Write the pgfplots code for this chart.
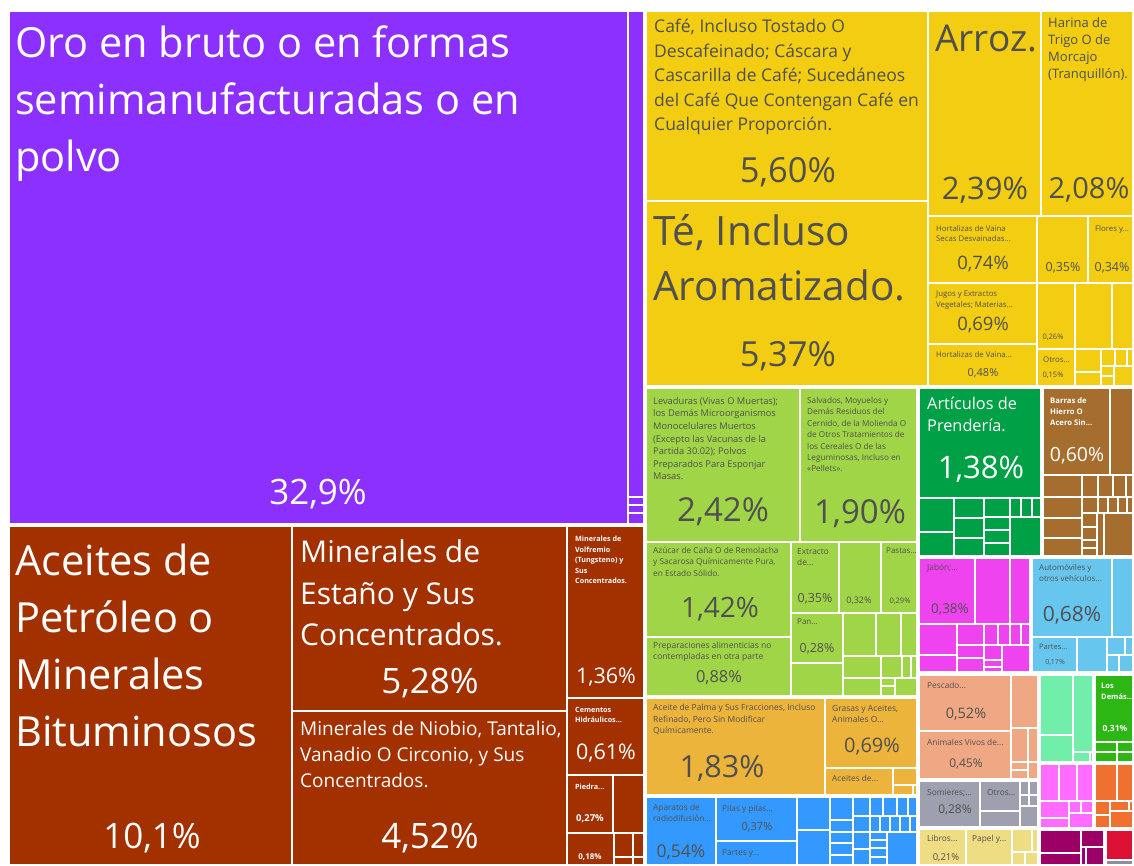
\documentclass[border=0pt]{standalone}
\usepackage{pgfplots}
\pgfplotsset{compat=1.18}
\usepackage{fontspec}
\setmainfont{Open Sans}
\definecolor{cPur}{HTML}{8C30FF}
\definecolor{cBrn}{HTML}{A33100}
\definecolor{cYel}{HTML}{F3CD12}
\definecolor{cLgr}{HTML}{A0D548}
\definecolor{cDgr}{HTML}{00A146}
\definecolor{cBr2}{HTML}{A66E2E}
\definecolor{cMag}{HTML}{F043F0}
\definecolor{cLbl}{HTML}{66C6EE}
\definecolor{cGld}{HTML}{EDB43C}
\definecolor{cBlu}{HTML}{3399FF}
\definecolor{cSal}{HTML}{F0A884}
\definecolor{cGry}{HTML}{9EA0B0}
\definecolor{cKha}{HTML}{EEDD82}
\definecolor{cMin}{HTML}{70EEAA}
\definecolor{cGrn}{HTML}{2DB714}
\definecolor{cPnk}{HTML}{FF6CFF}
\definecolor{cOra}{HTML}{F07030}
\definecolor{cDmg}{HTML}{9C0066}
\definecolor{cRed}{HTML}{DD1133}
\definecolor{cGy2}{HTML}{8E8E9E}
\definecolor{tx}{HTML}{505050}
\newcommand{\R}[5]{\addplot[fill=#5,draw=white,line width=2pt] coordinates {(#1,#2) (#3,#2) (#3,#4) (#1,#4)} --cycle;}
\newcommand{\G}[4]{\addplot[draw=white,line width=3.5pt] coordinates {(#1,#2) (#3,#2) (#3,#4) (#1,#4)} --cycle;}
\newcommand{\T}[6]{\node[anchor=north west,inner sep=0pt,align=left,text=#5,font=\fontsize{#3}{#4}\selectfont] at (axis cs:#1,#2) {#6};}
\newcommand{\Pc}[5]{\node[anchor=center,inner sep=0pt,text=#4,font=\fontsize{#3}{#3}\selectfont] at (axis cs:#1,#2) {#5};}
\begin{document}
\begin{tikzpicture}
\begin{axis}[width=1134pt,height=866pt,scale only axis,xmin=0,xmax=1134,ymin=0,ymax=866,y dir=reverse,hide axis]
\addplot[fill=white,draw=none] coordinates {(0,0) (1134,0) (1134,866) (0,866)} --cycle;
% ---- purple
\R{8}{10}{628}{525}{cPur}
\R{628}{10}{645}{497}{cPur}
\R{628}{497}{645}{505}{cPur}
\R{628}{505}{645}{513}{cPur}
\R{628}{513}{645}{525}{cPur}
% ---- brown
\R{8}{525}{292}{866}{cBrn}
\R{292}{525}{567}{711}{cBrn}
\R{292}{711}{567}{866}{cBrn}
\R{567}{525}{645}{698}{cBrn}
\R{567}{698}{645}{775}{cBrn}
\R{567}{775}{613}{833}{cBrn}
\R{613}{775}{645}{833}{cBrn}
\R{567}{833}{614}{866}{cBrn}
\R{614}{833}{633}{857}{cBrn}
\R{633}{833}{645}{857}{cBrn}
\R{614}{857}{633}{866}{cBrn}
\R{633}{857}{645}{866}{cBrn}
% ---- yellow
\R{645}{10}{928}{201}{cYel}
\R{645}{201}{928}{387}{cYel}
\R{928}{10}{1041}{216}{cYel}
\R{1041}{10}{1134}{216}{cYel}
\R{928}{216}{1037}{283}{cYel}
\R{1037}{216}{1088}{283}{cYel}
\R{1088}{216}{1134}{283}{cYel}
\R{928}{283}{1037}{344}{cYel}
\R{928}{344}{1037}{387}{cYel}
\R{1037}{283}{1075}{349}{cYel}
\R{1075}{283}{1112}{349}{cYel}
\R{1112}{283}{1134}{349}{cYel}
\R{1037}{349}{1075}{387}{cYel}
\R{1075}{349}{1101}{372}{cYel}
\R{1075}{372}{1101}{387}{cYel}
\R{1101}{349}{1115}{366}{cYel}
\R{1115}{349}{1127}{366}{cYel}
\R{1127}{349}{1134}{366}{cYel}
\R{1101}{366}{1114}{376}{cYel}
\R{1101}{376}{1114}{387}{cYel}
\R{1114}{366}{1134}{387}{cYel}
% ---- light green
\R{645}{387}{800}{542}{cLgr}
\R{800}{387}{918}{542}{cLgr}
\R{645}{542}{791}{637}{cLgr}
\R{645}{637}{791}{697}{cLgr}
\R{791}{542}{839}{613}{cLgr}
\R{839}{542}{881}{613}{cLgr}
\R{881}{542}{918}{613}{cLgr}
\R{791}{613}{843}{663}{cLgr}
\R{791}{663}{843}{697}{cLgr}
\R{843}{613}{876}{656}{cLgr}
\R{876}{613}{901}{656}{cLgr}
\R{901}{613}{918}{656}{cLgr}
\R{843}{656}{881}{678}{cLgr}
\R{843}{678}{881}{697}{cLgr}
\R{881}{656}{902}{678}{cLgr}
\R{902}{656}{911}{678}{cLgr}
\R{911}{656}{918}{678}{cLgr}
\R{881}{678}{895}{686}{cLgr}
\R{881}{686}{895}{697}{cLgr}
\R{895}{678}{918}{697}{cLgr}
% ---- dark green
\R{918}{387}{1042}{498}{cDgr}
\R{918}{498}{954}{532}{cDgr}
\R{918}{532}{954}{557}{cDgr}
\R{954}{498}{984}{518}{cDgr}
\R{954}{518}{984}{538}{cDgr}
\R{954}{538}{984}{557}{cDgr}
\R{984}{498}{1010}{517}{cDgr}
\R{984}{517}{1010}{530}{cDgr}
\R{984}{530}{1010}{543}{cDgr}
\R{984}{543}{1010}{557}{cDgr}
\R{1010}{498}{1021}{517}{cDgr}
\R{1021}{498}{1032}{517}{cDgr}
\R{1032}{498}{1042}{517}{cDgr}
\R{1010}{517}{1042}{557}{cDgr}
% ---- barras
\R{1042}{387}{1110}{475}{cBr2}
\R{1110}{387}{1134}{475}{cBr2}
\R{1042}{475}{1082}{497}{cBr2}
\R{1042}{497}{1082}{518}{cBr2}
\R{1042}{518}{1082}{538}{cBr2}
\R{1042}{538}{1082}{557}{cBr2}
\R{1082}{475}{1098}{497}{cBr2}
\R{1098}{475}{1113}{497}{cBr2}
\R{1113}{475}{1126}{497}{cBr2}
\R{1126}{475}{1134}{497}{cBr2}
\R{1082}{497}{1098}{513}{cBr2}
\R{1098}{497}{1108}{513}{cBr2}
\R{1108}{497}{1118}{513}{cBr2}
\R{1118}{497}{1127}{513}{cBr2}
\R{1127}{497}{1134}{513}{cBr2}
\R{1082}{513}{1097}{527}{cBr2}
\R{1082}{527}{1097}{540}{cBr2}
\R{1082}{540}{1097}{548}{cBr2}
\R{1082}{548}{1097}{557}{cBr2}
\R{1097}{513}{1104}{557}{cBr2}
\R{1104}{513}{1134}{557}{cBr2}
% ---- magenta
\R{918}{557}{975}{624}{cMag}
\R{975}{557}{1010}{624}{cMag}
\R{1010}{557}{1031}{624}{cMag}
\R{918}{624}{957}{655}{cMag}
\R{918}{655}{957}{673}{cMag}
\R{957}{624}{984}{645}{cMag}
\R{957}{645}{984}{658}{cMag}
\R{957}{658}{984}{673}{cMag}
\R{984}{624}{998}{645}{cMag}
\R{998}{624}{1010}{645}{cMag}
\R{1010}{624}{1021}{645}{cMag}
\R{1021}{624}{1031}{645}{cMag}
\R{984}{645}{1002}{660}{cMag}
\R{984}{660}{1002}{667}{cMag}
\R{984}{667}{1002}{673}{cMag}
\R{1002}{645}{1031}{673}{cMag}
% ---- light blue
\R{1031}{557}{1112}{637}{cLbl}
\R{1112}{557}{1134}{637}{cLbl}
\R{1031}{637}{1077}{673}{cLbl}
\R{1077}{637}{1107}{673}{cLbl}
\R{1107}{637}{1125}{655}{cLbl}
\R{1125}{637}{1134}{655}{cLbl}
\R{1107}{655}{1119}{673}{cLbl}
\R{1119}{655}{1134}{673}{cLbl}
% ---- gold
\R{645}{697}{825}{796}{cGld}
\R{825}{697}{918}{768}{cGld}
\R{825}{768}{893}{796}{cGld}
\R{893}{768}{918}{785}{cGld}
\R{893}{785}{913}{796}{cGld}
\R{913}{785}{918}{796}{cGld}
% ---- blue
\R{645}{796}{716}{866}{cBlu}
\R{716}{796}{797}{841}{cBlu}
\R{716}{841}{797}{866}{cBlu}
\R{797}{796}{830}{830}{cBlu}
\R{797}{830}{830}{866}{cBlu}
\R{830}{796}{853}{820}{cBlu}
\R{830}{820}{853}{832}{cBlu}
\R{830}{832}{853}{843}{cBlu}
\R{830}{843}{853}{855}{cBlu}
\R{830}{855}{853}{866}{cBlu}
\R{853}{796}{870}{816}{cBlu}
\R{870}{796}{883}{816}{cBlu}
\R{883}{796}{897}{816}{cBlu}
\R{897}{796}{908}{816}{cBlu}
\R{908}{796}{918}{816}{cBlu}
\R{853}{816}{870}{832}{cBlu}
\R{870}{816}{880}{832}{cBlu}
\R{880}{816}{890}{832}{cBlu}
\R{890}{816}{900}{832}{cBlu}
\R{900}{816}{910}{832}{cBlu}
\R{910}{816}{918}{832}{cBlu}
\R{853}{832}{870}{849}{cBlu}
\R{853}{849}{870}{866}{cBlu}
\R{870}{832}{887}{840}{cBlu}
\R{870}{840}{887}{848}{cBlu}
\R{870}{848}{887}{857}{cBlu}
\R{870}{857}{887}{866}{cBlu}
\R{887}{832}{918}{866}{cBlu}
% ---- salmon
\R{918}{674}{1011}{731}{cSal}
\R{918}{731}{1011}{780}{cSal}
\R{1011}{674}{1039}{728}{cSal}
\R{1011}{728}{1028}{762}{cSal}
\R{1028}{728}{1039}{762}{cSal}
\R{1011}{762}{1028}{770}{cSal}
\R{1011}{770}{1028}{780}{cSal}
\R{1028}{762}{1039}{780}{cSal}
% ---- gray
\R{918}{780}{980}{828}{cGry}
\R{980}{780}{1020}{811}{cGry}
\R{980}{811}{1020}{828}{cGry}
\R{1020}{780}{1029}{795}{cGry}
\R{1029}{780}{1039}{795}{cGry}
\R{1020}{795}{1029}{806}{cGry}
\R{1029}{795}{1039}{806}{cGry}
\R{1020}{806}{1039}{828}{cGry}
% ---- khaki
\R{918}{828}{966}{866}{cKha}
\R{966}{828}{1012}{866}{cKha}
\R{1012}{828}{1032}{852}{cKha}
\R{1032}{828}{1039}{852}{cKha}
\R{1012}{852}{1025}{866}{cKha}
\R{1025}{852}{1039}{866}{cKha}
% ---- mint
\R{1039}{674}{1073}{735}{cMin}
\R{1039}{735}{1073}{763}{cMin}
\R{1073}{674}{1094}{752}{cMin}
\R{1073}{752}{1090}{763}{cMin}
\R{1090}{752}{1094}{763}{cMin}
% ---- green los demas
\R{1094}{674}{1134}{742}{cGrn}
\R{1094}{742}{1117}{752}{cGrn}
\R{1094}{752}{1117}{763}{cGrn}
\R{1117}{742}{1134}{752}{cGrn}
\R{1117}{752}{1134}{763}{cGrn}
% ---- pink
\R{1039}{763}{1059}{801}{cPnk}
\R{1059}{763}{1077}{801}{cPnk}
\R{1077}{763}{1094}{801}{cPnk}
\R{1039}{801}{1069}{818}{cPnk}
\R{1039}{818}{1069}{829}{cPnk}
\R{1069}{801}{1081}{813}{cPnk}
\R{1081}{801}{1094}{813}{cPnk}
\R{1069}{813}{1094}{829}{cPnk}
% ---- orange
\R{1094}{763}{1117}{801}{cOra}
\R{1117}{763}{1134}{801}{cOra}
\R{1094}{801}{1110}{815}{cOra}
\R{1094}{815}{1110}{829}{cOra}
\R{1110}{801}{1129}{811}{cOra}
\R{1129}{801}{1134}{811}{cOra}
\R{1110}{811}{1134}{829}{cOra}
% ---- dark magenta, red
\R{1039}{829}{1081}{853}{cDmg}
\R{1039}{853}{1081}{866}{cDmg}
\R{1081}{829}{1105}{847}{cDmg}
\R{1081}{847}{1086}{866}{cDmg}
\R{1086}{847}{1105}{866}{cDmg}
\R{1105}{829}{1134}{860}{cRed}
\R{1105}{860}{1134}{866}{cGy2}
% ---- group outlines
\G{8}{10}{645}{525}
\G{8}{525}{645}{866}
\G{645}{10}{1134}{387}
\G{645}{387}{918}{697}
\G{918}{387}{1042}{557}
\G{1042}{387}{1134}{557}
\G{918}{557}{1031}{673}
\G{1031}{557}{1134}{673}
\G{645}{697}{918}{796}
\G{645}{796}{918}{866}
\G{918}{674}{1039}{780}
\G{918}{780}{1039}{828}
\G{918}{828}{1039}{866}
\G{1039}{674}{1094}{763}
\G{1094}{674}{1134}{763}
\G{1039}{763}{1094}{829}
\G{1094}{763}{1134}{829}
\G{1039}{829}{1105}{866}
\G{1105}{829}{1134}{866}
% ================= texts
\T{15}{26}{41.5}{57}{white}{Oro en bruto o en formas\\semimanufacturadas o en\\polvo}
\Pc{318}{494}{35}{white}{32,9\%}
\T{15}{544}{41.5}{57}{white}{Aceites de\\Petróleo o\\Minerales\\Bituminosos}
\Pc{152}{838}{35}{white}{10,1\%}
\T{300}{540}{30}{41.5}{white}{Minerales de\\Estaño y Sus\\Concentrados.}
\Pc{430}{683}{35}{white}{5,28\%}
\T{300}{721}{19}{26}{white}{Minerales de Niobio, Tantalio,\\Vanadio O Circonio, y Sus\\Concentrados.}
\Pc{430}{838}{35}{white}{4,52\%}
\T{575}{536}{7.2}{10.5}{white}{\bfseries Minerales de\\\bfseries Volfremio\\\bfseries (Tungsteno) y\\\bfseries Sus\\\bfseries Concentrados.}
\Pc{606}{677}{21.5}{white}{1,36\%}
\T{575}{707}{7.2}{10.5}{white}{\bfseries Cementos\\\bfseries Hidráulicos...}
\Pc{606}{753}{21.5}{white}{0,61\%}
\T{575}{784}{7.2}{10}{white}{\bfseries Piedra...}
\Pc{590}{819}{9.5}{white}{\bfseries 0,27\%}
\Pc{590}{857}{8}{white}{\bfseries 0,18\%}
% yellow
\T{654}{19}{17.5}{24.5}{tx}{Café, Incluso Tostado O\\Descafeinado; Cáscara y\\Cascarilla de Café; Sucedáneos\\del Café Que Contengan Café en\\Cualquier Proporción.}
\Pc{788}{172}{34.5}{tx}{5,60\%}
\T{653}{214}{40.5}{55}{tx}{Té, Incluso\\Aromatizado.}
\Pc{788}{356}{34.5}{tx}{5,37\%}
\T{935}{25}{37}{40}{tx}{Arroz.}
\Pc{985}{190}{31}{tx}{2,39\%}
\T{1048}{17}{13}{17}{tx}{Harina de\\Trigo O de\\Morcajo\\(Tranquillón).}
\Pc{1089}{190}{29}{tx}{2,08\%}
\T{936}{225}{7.8}{10.5}{tx}{Hortalizas de Vaina\\Secas Desvainadas...}
\Pc{983}{264}{18.5}{tx}{0,74\%}
\Pc{1063}{268}{12.5}{tx}{0,35\%}
\T{1095}{225}{7.8}{10}{tx}{Flores y...}
\Pc{1112}{268}{12.5}{tx}{0,34\%}
\T{936}{291}{7.8}{10.5}{tx}{Jugos y Extractos\\Vegetales; Materias...}
\Pc{983}{325}{18.5}{tx}{0,69\%}
\T{936}{351}{7.8}{10}{tx}{Hortalizas de Vaina...}
\Pc{983}{373}{11}{tx}{0,48\%}
\Pc{1053}{337}{7.5}{tx}{0,26\%}
\T{1043}{357}{7.8}{10}{tx}{Otros...}
\Pc{1053}{375}{7.5}{tx}{0,15\%}
% light green
\T{653}{397}{9.3}{12.6}{tx}{Levaduras (Vivas O Muertas);\\los Demás Microorganismos\\Monocelulares Muertos\\(Excepto las Vacunas de la\\Partida 30.02); Polvos\\Preparados Para Esponjar\\Masas.}
\Pc{723}{512}{33}{tx}{2,42\%}
\T{807}{397}{8.2}{11.4}{tx}{Salvados, Moyuelos y\\Demás Residuos del\\Cernido, de la Molienda O\\de Otros Tratamientos de\\los Cereales O de las\\Leguminosas, Incluso en\\«Pellets».}
\Pc{860}{514}{33}{tx}{1,90\%}
\T{653}{547}{8.3}{11.3}{tx}{Azúcar de Caña O de Remolacha\\y Sacarosa Químicamente Pura,\\en Estado Sólido.}
\Pc{720}{609}{28}{tx}{1,42\%}
\T{653}{642}{8.5}{11}{tx}{Preparaciones alimenticias no\\contempladas en otra parte}
\Pc{719}{678}{16.5}{tx}{0,88\%}
\T{797}{548}{8.3}{11}{tx}{Extracto\\de...}
\Pc{815}{599}{12.5}{tx}{0,35\%}
\Pc{859}{601}{9}{tx}{0,32\%}
\T{886}{548}{8}{11}{tx}{Pastas...}
\Pc{900}{601}{7.5}{tx}{0,29\%}
\T{797}{619}{8}{11}{tx}{Pan...}
\Pc{817}{649}{12.5}{tx}{0,28\%}
% dark green, barras
\T{927}{397}{16.3}{22}{white}{Artículos de\\Prendería.}
\Pc{981}{469}{31}{white}{1,38\%}
\T{1050}{397}{7.7}{11}{white}{\bfseries Barras de\\\bfseries Hierro O\\\bfseries Acero Sin...}
\Pc{1077}{456}{19.5}{white}{0,60\%}
% magenta, light blue
\T{927}{564}{8.3}{11}{tx}{Jabón;...}
\Pc{950}{609}{13.5}{tx}{0,38\%}
\T{1039}{564}{8}{11}{tx}{Automóviles y\\otros vehículos...}
\Pc{1072}{615}{21}{tx}{0,68\%}
\T{1039}{644}{7.5}{10}{tx}{Partes...}
\Pc{1055}{662}{7}{tx}{0,17\%}
% gold
\T{653}{704}{8.5}{11.5}{tx}{Aceite de Palma y Sus Fracciones, Incluso\\Refinado, Pero Sin Modificar\\Químicamente.}
\Pc{722}{768}{30.5}{tx}{1,83\%}
\T{832}{705}{8.5}{11}{tx}{Grasas y Aceites,\\Animales O...}
\Pc{872}{747}{20}{tx}{0,69\%}
\T{832}{775}{8.3}{11}{tx}{Aceites de...}
% blue
\T{653}{804}{8.3}{11}{tx}{Aparatos de\\radiodifusión...}
\Pc{681}{852}{17.5}{tx}{0,54\%}
\T{722}{805}{8.3}{11}{tx}{Pilas y pilas...}
\Pc{757}{827}{11}{tx}{0,37\%}
\T{722}{849}{8.3}{11}{tx}{Partes y...}
% salmon, gray, khaki
\T{927}{682}{8.3}{11}{tx}{Pescado...}
\Pc{966}{714}{14.5}{tx}{0,52\%}
\T{927}{739}{8.3}{11}{tx}{Animales Vivos de...}
\Pc{966}{764}{12}{tx}{0,45\%}
\T{927}{789}{8.3}{11}{tx}{Somieres;...}
\Pc{955}{810}{12}{tx}{0,28\%}
\T{987}{789}{8.3}{11}{tx}{Otros...}
\T{927}{835}{8.3}{11}{tx}{Libros...}
\Pc{946}{858}{9.5}{tx}{0,21\%}
\T{972}{835}{8.3}{11}{tx}{Papel y...}
% los demas
\T{1101}{683}{7.5}{10.5}{white}{\bfseries Los\\\bfseries Demás...}
\Pc{1115}{729}{8.5}{white}{\bfseries 0,31\%}
\end{axis}
\end{tikzpicture}
\end{document}
